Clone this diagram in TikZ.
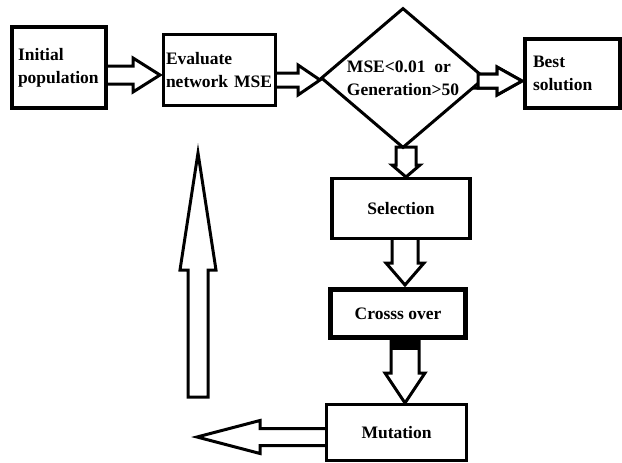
\documentclass[tikz,border=0pt]{standalone}
\usepackage{fontspec}
\setmainfont{Liberation Serif}
\usetikzlibrary{shapes.geometric}
\newcommand{\harr}[6]{% horizontal: x0, tip, yc, shaft half, head half, head base
  \draw[harrow] (#1,{#3-#4}) -- (#6,{#3-#4}) -- (#6,{#3-#5}) -- (#2,#3) -- (#6,{#3+#5}) -- (#6,{#3+#4}) -- (#1,{#3+#4}) -- cycle;}
\newcommand{\varr}[6]{% vertical: y0, tip, xc, shaft half, head half, head base
  \draw[harrow] ({#3-#4},#1) -- ({#3-#4},#6) -- ({#3-#5},#6) -- (#3,#2) -- ({#3+#5},#6) -- ({#3+#4},#6) -- ({#3+#4},#1) -- cycle;}
\begin{document}
\begin{tikzpicture}[x=1pt,y=-1pt,
  box/.style={draw, fill=white, rectangle, inner sep=0pt, align=left},
  harrow/.style={draw, line width=3pt, fill=white, line join=miter},
  every node/.style={font=\fontsize{17.5}{23}\selectfont\bfseries}]
\useasboundingbox (0,0) rectangle (622,463);
\fill[white] (0,0) rectangle (622,463);

% hollow arrows drawn under the boxes
\harr{100}{160}{75}{9}{17}{133}
\harr{270}{320}{80}{7}{15}{298}
\harr{470}{522}{81}{7}{14}{497}
\varr{147}{177}{406}{10}{14}{165}
\varr{235}{285}{405}{13}{19}{263}
\varr{335}{403}{405}{14}{20}{373}
\fill[black] (391,340) rectangle (419,350);
\harr{328}{197}{437}{8.5}{16.5}{260}
\varr{397}{153}{198}{10}{18}{270}

% boxes
\node[box, line width=4pt, minimum width=94pt, minimum height=81pt, text width=82pt] (init) at (59,67.5) {Initial\\population};
\node[box, line width=3pt, minimum width=112pt, minimum height=71pt, text width=107pt] (eval) at (219.5,70) {Evaluate\\network MSE};
\node[draw, fill=white, diamond, line width=3pt, aspect=1.17, inner sep=0pt, minimum width=164pt, minimum height=140pt, align=left] (cond) at (403,78) {MSE<0.01\ \ or\\Generation>50};
\node[box, line width=4pt, minimum width=95pt, minimum height=69pt, text width=79pt] (best) at (572.5,73.5) {Best\\solution\\[-6pt]};
\node[box, line width=3.5pt, minimum width=138pt, minimum height=60pt, align=center] (sel) at (401,208.5) {Selection};
\node[box, line width=5pt, minimum width=135pt, minimum height=48pt, align=center] (cross) at (398,313.5) {Crosss over};
\node[box, line width=3pt, minimum width=140pt, minimum height=56pt, align=center] (mut) at (396.5,432.5) {Mutation};

% arrow drawn over the diamond corner
\harr{478}{522}{81}{7}{14}{497}
\end{tikzpicture}
\end{document}
